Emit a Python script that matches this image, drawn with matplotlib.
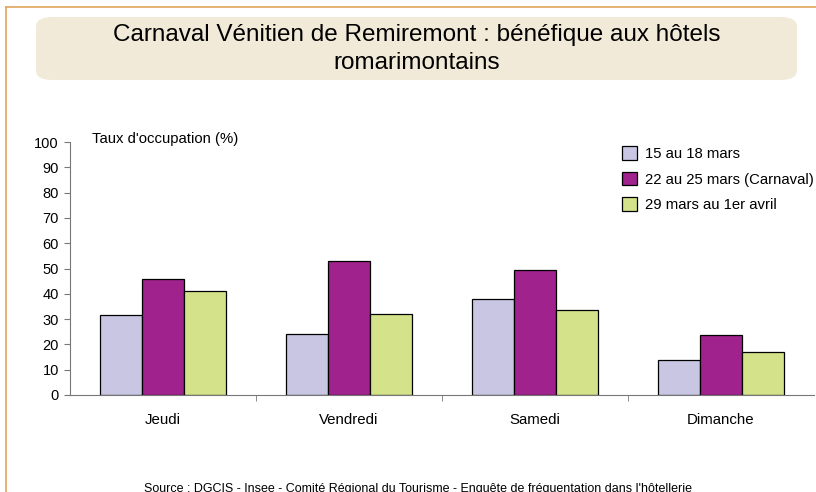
import numpy as np
import matplotlib.pyplot as plt
from matplotlib.patches import FancyBboxPatch
from matplotlib.lines import Line2D

plt.rcParams['font.family'] = ['Liberation Sans', 'DejaVu Sans']

# Données
jours = ['Jeudi', 'Vendredi', 'Samedi', 'Dimanche']
series = ['15 au 18 mars', '22 au 25 mars (Carnaval)', '29 mars au 1er avril']
sem_15_18 = [31.6, 24.1, 38.0, 13.8]
sem_22_25 = [45.8, 53.0, 49.4, 23.7]
sem_29_01 = [41.1, 32.0, 33.6, 17.0]
couleurs = ['#C8C6E2', '#A0228C', '#D4E38A']

fig = plt.figure(figsize=(8.16, 4.92), dpi=100)

# Cadre orange
fig.add_artist(Line2D([6/816, 6/816], [0, 1 - 7/492], color='#E3A35E', lw=1.2))
fig.add_artist(Line2D([6/816, 1], [1 - 7/492, 1 - 7/492], color='#E3A35E', lw=1.2))

# Bandeau titre
box = FancyBboxPatch((36/816, 1 - 80/492), 761/816, 63/492,
                     boxstyle='round,pad=0,rounding_size=0.02',
                     transform=fig.transFigure, facecolor='#F2EAD8', edgecolor='none')
fig.add_artist(box)
fig.text(417/816, 1 - 49/492, "Carnaval Vénitien de Remiremont : bénéfique aux hôtels\nromarimontains",
         ha='center', va='center', fontsize=17.5, linespacing=1.32)

ax = fig.add_axes([70/816, 1 - 395/492, 744/816, 253/492])
x = np.arange(len(jours))
w = 0.226
for i, (vals, lab) in enumerate(zip([sem_15_18, sem_22_25, sem_29_01], series)):
    ax.bar(x + (i - 1) * w, vals, w, color=couleurs[i], edgecolor='black', linewidth=0.9, label=lab)

ax.set_xlim(-0.5, len(jours) - 0.5)
ax.set_ylim(0, 100)
ax.set_yticks(range(0, 101, 10))
ax.set_xticks(x)
ax.set_xticklabels(jours)
ax.set_xticks(np.arange(0.5, len(jours) - 0.5), minor=True)
ax.tick_params(axis='x', which='major', length=0, pad=13, labelsize=10.8)
ax.tick_params(axis='x', which='minor', length=4, color='#777777', direction='out')
ax.tick_params(axis='y', length=4, color='#777777', labelsize=10.5, pad=4)
for s in ['top', 'right']:
    ax.spines[s].set_visible(False)
for s in ['left', 'bottom']:
    ax.spines[s].set_color('#777777')

fig.text(92/816, 1 - 139/492, "Taux d'occupation (%)", fontsize=10.7, va='center')

ax.legend(loc='upper left', bbox_to_anchor=(609/816, 1 - 133/492), bbox_transform=fig.transFigure,
          frameon=False, fontsize=10.7, handlelength=1.0, handleheight=1.0, labelspacing=0.72,
          handletextpad=0.5)

fig.text(418/816, 1 - 489/492,
         "Source : DGCIS - Insee - Comité Régional du Tourisme - Enquête de fréquentation dans l'hôtellerie",
         ha='center', va='center', fontsize=9.0)

fig.savefig('out.png', dpi=100)
